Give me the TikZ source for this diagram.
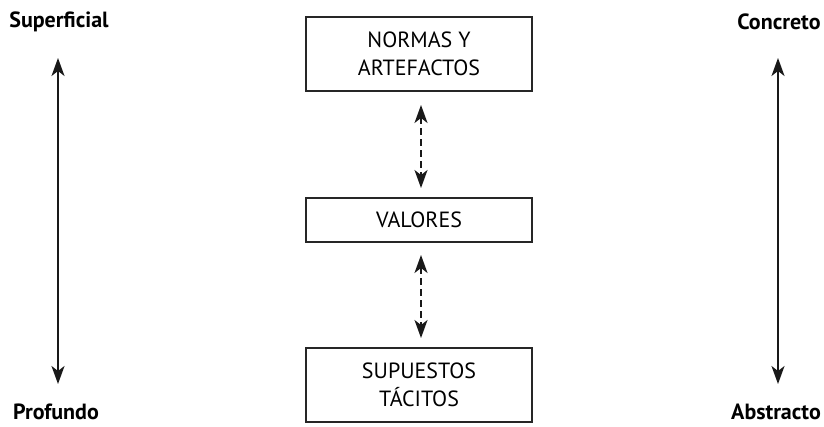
\documentclass[tikz,border=0pt]{standalone}
\usepackage{fontspec}
\setmainfont{PT Sans}
\usetikzlibrary{arrows.meta}
\begin{document}
\begin{tikzpicture}[x=1pt,y=-1pt,
  box/.style={draw=black!85,line width=1.3pt,minimum width=226pt,inner sep=0pt,align=center,font=\fontsize{22}{28}\selectfont},
  side/.style={font=\bfseries\fontsize{22}{24}\selectfont},
  hd/.style={},
  dbl/.style={{Stealth[length=18pt,width=13pt,inset=5pt]}-{Stealth[length=18pt,width=13pt,inset=5pt]},line width=1.8pt,black!90},
  dsh/.style={dbl,dash pattern=on 7pt off 4pt}]
\useasboundingbox (0,0) rectangle (824,426);
\node[side] (sup) at (59,22) {Superficial};
\node[side] (pro) at (56,412) {Profundo};
\node[side] (con) at (779,22) {Concreto};
\node[side] (abs) at (776,412) {Abstracto};
\coordinate (la) at (58,58);
\coordinate (lb) at (58,384);
\coordinate (ra) at (778,58);
\coordinate (rb) at (778,384);
\draw[dbl] (la) -- (lb);
\draw[dbl] (ra) -- (rb);
\node[box,minimum height=74pt] (n1) at (419,54) {NORMAS Y\\ARTEFACTOS};
\node[box,minimum height=44pt] (n2) at (419,220) {VALORES};
\node[box,minimum height=74pt] (n3) at (419,385) {SUPUESTOS\\TÁCITOS};
\coordinate (d1a) at (421,105);
\coordinate (d1b) at (421,188);
\coordinate (d2a) at (421,255);
\coordinate (d2b) at (421,338);
\draw[dsh] (d1a) -- (d1b);
\draw[dsh] (d2a) -- (d2b);
\end{tikzpicture}
\end{document}
